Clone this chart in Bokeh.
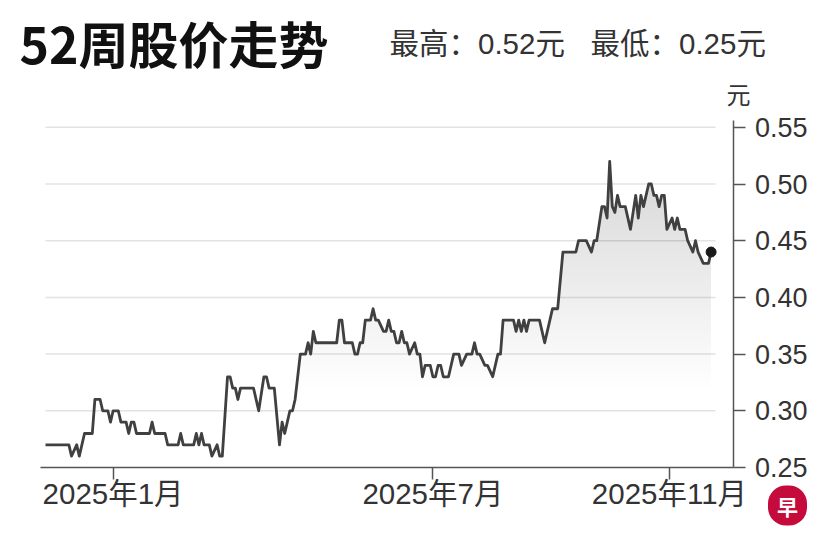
import numpy as np
from bokeh.plotting import figure
from bokeh.models import FixedTicker, Label
from bokeh.embed import file_html
from bokeh.resources import INLINE

# trading-day index and closing price
day = [0, 9, 10, 12, 13, 15, 18, 19, 21, 22, 24, 25, 26, 28, 29, 31, 32, 33, 34, 35,
       40, 41, 42, 46, 47, 51, 52, 53, 57, 58, 59, 60, 61, 63, 64, 66, 67, 68, 70, 71,
       72, 73, 74, 75, 80, 82, 84, 85, 86, 88, 90, 91, 92, 93, 94, 95, 96, 98, 100, 101,
       102, 103, 104, 112, 113, 114, 115, 118, 119, 120, 121, 122, 123, 125, 126, 127, 128, 130, 131, 132,
       133, 134, 135, 136, 137, 138, 139, 140, 142, 143, 144, 145, 146, 148, 149, 150, 151, 152, 153, 155,
       157, 159, 160, 162, 164, 165, 166, 167, 169, 170, 172, 174, 175, 176, 180, 181, 182, 183, 184, 185,
       186, 190, 192, 193, 195, 197, 199, 204, 205, 208, 210, 211, 212, 214, 215, 216, 217, 218, 219, 220,
       221, 223, 225, 227, 228, 229, 230, 232, 233, 234, 235, 236, 237, 238, 239, 241, 242, 243, 244, 246,
       247, 249, 250, 251, 253, 255, 256]
price = [0.27, 0.27, 0.26, 0.27, 0.26, 0.28, 0.28, 0.31, 0.31, 0.30, 0.30, 0.29, 0.30, 0.30, 0.29, 0.29, 0.28, 0.29, 0.29, 0.28,
         0.28, 0.29, 0.28, 0.28, 0.27, 0.27, 0.28, 0.27, 0.27, 0.28, 0.27, 0.28, 0.27, 0.27, 0.26, 0.27, 0.26, 0.26, 0.33, 0.33,
         0.32, 0.32, 0.31, 0.32, 0.32, 0.30, 0.33, 0.33, 0.32, 0.32, 0.27, 0.29, 0.28, 0.29, 0.30, 0.30, 0.31, 0.35, 0.35, 0.36,
         0.35, 0.37, 0.36, 0.36, 0.38, 0.38, 0.36, 0.36, 0.35, 0.35, 0.36, 0.36, 0.38, 0.38, 0.39, 0.38, 0.38, 0.37, 0.37, 0.38,
         0.37, 0.37, 0.36, 0.36, 0.37, 0.36, 0.36, 0.35, 0.36, 0.35, 0.35, 0.33, 0.34, 0.34, 0.33, 0.33, 0.34, 0.34, 0.33, 0.33,
         0.35, 0.35, 0.34, 0.35, 0.35, 0.36, 0.35, 0.35, 0.34, 0.34, 0.33, 0.35, 0.35, 0.38, 0.38, 0.37, 0.38, 0.37, 0.38, 0.37,
         0.38, 0.38, 0.36, 0.37, 0.39, 0.39, 0.44, 0.44, 0.45, 0.45, 0.44, 0.45, 0.45, 0.48, 0.48, 0.47, 0.52, 0.48, 0.475, 0.49,
         0.48, 0.48, 0.46, 0.49, 0.47, 0.49, 0.48, 0.50, 0.50, 0.49, 0.49, 0.48, 0.49, 0.49, 0.46, 0.47, 0.46, 0.47, 0.46, 0.46,
         0.45, 0.44, 0.45, 0.44, 0.43, 0.43, 0.44]

y_ticks = [0.25, 0.30, 0.35, 0.40, 0.45, 0.50, 0.55]
y_labels = ["0.25", "0.30", "0.35", "0.40", "0.45", "0.50", "0.55"]
x_ticks = [26, 149, 240]
x_labels = ["2025年1月", "2025年7月", "2025年11月"]

title_text = "52周股价走势"
high_text = "最高：0.52元"
low_text = "最低：0.25元"
unit_text = "元"
logo_text = "早"

FONT = "Liberation Sans, Noto Sans CJK SC"
CJK = "Noto Sans CJK SC"

# the frame fills the whole canvas so header texts are not clipped;
# the axes sit inside it at fixed locations
X0, X1 = -17.31, 297.31
Y0, Y1 = 0.18563, 0.66182
AXIS_X = 264.6

p = figure(width=818, height=540, x_range=(X0, X1), y_range=(Y0, Y1),
           x_axis_location="above", y_axis_location="left",
           output_backend="svg", toolbar_location=None,
           min_border_left=0, min_border_right=0, min_border_top=0, min_border_bottom=0)
p.outline_line_color = None
p.background_fill_color = "white"
p.border_fill_color = "white"
p.grid.visible = False

# horizontal guide lines
p.segment(x0=day[0], x1=257.7, y0=y_ticks[1:], y1=y_ticks[1:],
          line_color="#e3e3e3", line_width=1.5)

# grey fade under the line (stacked translucent layers)
pr = np.array(price)
for lev in np.arange(0.32, 0.52, 0.005):
    p.varea(x=day, y1=lev, y2=np.maximum(pr, lev), fill_color="#808080", fill_alpha=0.013)

p.line(day, price, line_color="#404040", line_width=2.8, line_join="round")
p.scatter([day[-1]], [price[-1]], size=10, color="#1a1a1a")

# value axis (drawn at the right end of the series, labels to its right)
ya = p.yaxis[0]
ya.fixed_location = AXIS_X
ya.bounds = (0.25, 0.556)
ya.ticker = FixedTicker(ticks=y_ticks)
ya.major_label_overrides = dict(zip(y_ticks, y_labels))
ya.axis_line_color = "#555555"
ya.axis_line_width = 1.5
ya.major_tick_line_color = "#555555"
ya.major_tick_line_width = 1.5
ya.major_tick_out = 0
ya.major_tick_in = 12
ya.minor_tick_line_color = None
ya.major_label_text_font = FONT
ya.major_label_text_font_size = "27px"
ya.major_label_text_color = "#333333"
ya.major_label_standoff = -74

# time axis
xa = p.xaxis[0]
xa.fixed_location = 0.25
xa.bounds = (-1.92, AXIS_X)
xa.ticker = FixedTicker(ticks=x_ticks)
xa.major_label_overrides = dict(zip(x_ticks, x_labels))
xa.axis_line_color = "#555555"
xa.axis_line_width = 1.5
xa.major_tick_line_color = "#555555"
xa.major_tick_line_width = 1.5
xa.major_tick_out = 0
xa.major_tick_in = 12
xa.minor_tick_line_color = None
xa.major_label_text_font = FONT
xa.major_label_text_font_size = "29.5px"
xa.major_label_text_color = "#333333"
xa.major_label_standoff = -42

# header texts
p.add_layout(Label(x=19, y=41, x_units="canvas", y_units="canvas", text=title_text,
                   text_font=CJK, text_font_style="bold", text_font_size="50px",
                   text_color="#111111", text_baseline="middle"))
p.add_layout(Label(x=389, y=43, x_units="canvas", y_units="canvas", text=high_text,
                   text_font=FONT, text_font_size="29.5px", text_color="#333333",
                   text_baseline="middle"))
p.add_layout(Label(x=590, y=43, x_units="canvas", y_units="canvas", text=low_text,
                   text_font=FONT, text_font_size="29.5px", text_color="#333333",
                   text_baseline="middle"))
p.add_layout(Label(x=738, y=93, x_units="canvas", y_units="canvas", text=unit_text,
                   text_font=CJK, text_font_size="24px", text_color="#333333",
                   text_align="center", text_baseline="middle"))

# logo
p.add_layout(Label(x=787, y=505, x_units="canvas", y_units="canvas", text=logo_text,
                   text_font=CJK, text_font_style="bold", text_font_size="21px",
                   text_color="white", text_align="center", text_baseline="middle",
                   background_fill_color="#c50a3c", padding=dict(x=9, y=5), border_radius=18))

open("out.html", "w").write(file_html(p, INLINE))
